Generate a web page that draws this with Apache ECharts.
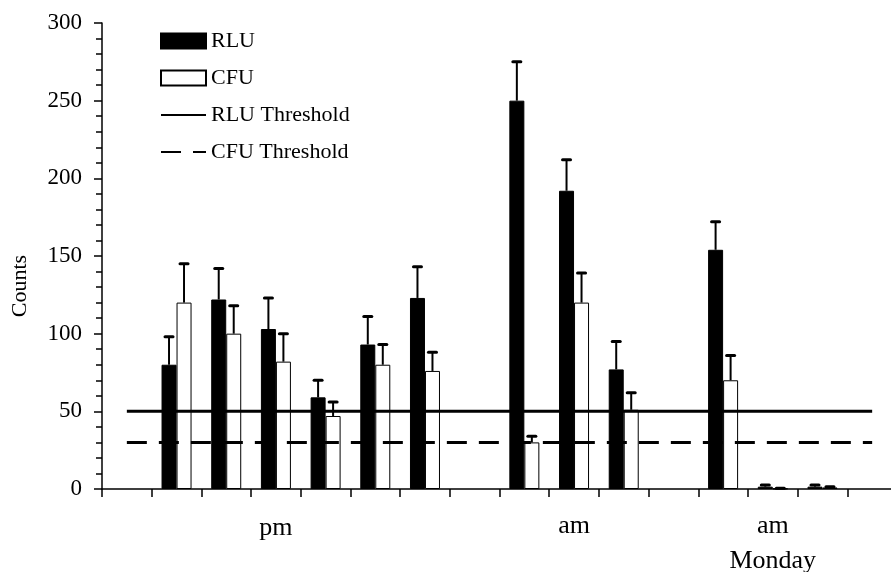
<!DOCTYPE html>
<html>
<head>
<meta charset="utf-8">
<script src="https://cdn.jsdelivr.net/npm/echarts@6/dist/echarts.min.js"></script>
<style>
  html, body { margin: 0; padding: 0; background: #fff; }
  #chart { width: 891px; height: 572px; }
</style>
</head>
<body>
<div id="chart"></div>
<script>
// 16 slots on the x axis, only three of them carry a text label
var categories = ['s1', 's2', 's3', 's4', 's5', 's6', 's7', 's8', 's9', 's10', 's11', 's12', 's13', 's14', 's15', 's16'];
var tickLabels = ['', '', '', 'pm', '', '', '', '', '', 'am', '', '', '', 'am\nMonday', '', ''];

var rlu    = [null, 80, 122, 103, 59, 93, 123, null, 250, 192, 77, null, 154, 1.5, 1.5, null];
var rluErr = [null, 18, 20, 20, 11, 18, 20, null, 25, 20, 18, null, 18, 1, 1, null];
var cfu    = [null, 120, 100, 82, 47, 80, 76, null, 30, 120, 51, null, 70, 0.3, 1, null];
var cfuErr = [null, 25, 18, 18, 9, 13, 12, null, 4, 19, 11, null, 16, 0.2, 0.5, null];

var rluThreshold = [50, 50, 50, 50, 50, 50, 50, 50, 50, 50, 50, 50, 50, 50, 50, 50];
var cfuThreshold = [30, 30, 30, 30, 30, 30, 30, 30, 30, 30, 30, 30, 30, 30, 30, 30];

var yTicks = { min: 0, max: 300, interval: 50 };

var FONT = '"Liberation Serif", "Times New Roman", serif';
var BAR_W = 15;

function errorData(values, errs) {
    var out = [];
    for (var i = 0; i < values.length; i++) {
        if (values[i] !== null) {
            out.push([i, values[i], errs[i]]);
        }
    }
    return out;
}

function errorBarRenderer(offset) {
    return function (params, api) {
        var idx = api.value(0);
        var base = api.coord([idx, api.value(1)]);
        var top = api.coord([idx, api.value(1) + api.value(2)]);
        var x = base[0] + offset;
        return {
            type: 'group',
            children: [
                {
                    type: 'line',
                    shape: { x1: x, y1: base[1], x2: x, y2: top[1] },
                    style: { stroke: '#000', lineWidth: 2 }
                },
                {
                    type: 'line',
                    shape: { x1: x - 4, y1: top[1], x2: x + 4, y2: top[1] },
                    style: { stroke: '#000', lineWidth: 3, lineCap: 'round' }
                }
            ]
        };
    };
}

var chart = echarts.init(document.getElementById('chart'));

var options = {
    animation: false,
    backgroundColor: '#fff',
    grid: {
        left: 102,
        right: -6,
        top: 23,
        bottom: 83,
        containLabel: false,
        outerBoundsMode: 'none'
    },
    legend: {
        orient: 'vertical',
        left: 160,
        top: 30,
        padding: 0,
        itemWidth: 45,
        itemHeight: 15,
        itemGap: 15,
        textStyle: { fontFamily: FONT, fontSize: 22, color: '#000' },
        data: [
            { name: 'RLU', icon: 'rect' },
            { name: 'CFU', icon: 'rect' },
            { name: 'RLU Threshold', itemStyle: { opacity: 0 } },
            { name: 'CFU Threshold', itemStyle: { opacity: 0 } }
        ]
    },
    graphic: [
        {
            type: 'text',
            x: 20,
            y: 286,
            rotation: Math.PI / 2,
            style: {
                text: 'Counts',
                font: '22px ' + FONT,
                fill: '#000',
                align: 'center',
                verticalAlign: 'middle'
            }
        }
    ],
    xAxis: {
        type: 'category',
        data: categories,
        boundaryGap: true,
        axisLine: { lineStyle: { color: '#000', width: 1.5 } },
        axisTick: {
            show: true,
            interval: 0,
            length: 8,
            lineStyle: { color: '#000', width: 1.5 }
        },
        axisLabel: {
            interval: 0,
            margin: 20,
            color: '#000',
            fontFamily: FONT,
            fontSize: 26,
            lineHeight: 35,
            formatter: function (value, index) {
                var t = tickLabels[index];
                if (t === 'pm') {
                    return '{pm|pm}';
                }
                return t;
            },
            rich: {
                pm: { fontFamily: FONT, fontSize: 26, color: '#000', padding: [4, 0, 0, 0] }
            }
        },
        splitLine: { show: false }
    },
    yAxis: {
        type: 'value',
        min: yTicks.min,
        max: yTicks.max,
        interval: yTicks.interval,
        axisLine: { show: true, lineStyle: { color: '#000', width: 1.5 } },
        axisTick: { show: true, length: 8, lineStyle: { color: '#000', width: 1.5 } },
        minorTick: { show: true, splitNumber: 5, length: 6, lineStyle: { color: '#000', width: 1.5 } },
        axisLabel: { color: '#000', fontFamily: FONT, fontSize: 23, margin: 20 },
        splitLine: { show: false }
    },
    series: [
        {
            name: 'RLU',
            type: 'bar',
            data: rlu,
            barWidth: BAR_W,
            barGap: '0%',
            itemStyle: { color: '#000', borderColor: '#000', borderWidth: 1 }
        },
        {
            name: 'CFU',
            type: 'bar',
            data: cfu,
            barWidth: BAR_W,
            barGap: '0%',
            itemStyle: { color: '#fff', borderColor: '#000', borderWidth: 1 }
        },
        {
            name: 'RLU Threshold',
            type: 'line',
            data: rluThreshold,
            symbol: 'none',
            itemStyle: { color: '#000' },
            lineStyle: { color: '#000', width: 3 }
        },
        {
            name: 'CFU Threshold',
            type: 'line',
            data: cfuThreshold,
            symbol: 'none',
            itemStyle: { color: '#000' },
            lineStyle: { color: '#000', width: 3, type: [20, 12] }
        },
        {
            name: 'RLU error',
            type: 'custom',
            data: errorData(rlu, rluErr),
            renderItem: errorBarRenderer(-BAR_W / 2),
            z: 3
        },
        {
            name: 'CFU error',
            type: 'custom',
            data: errorData(cfu, cfuErr),
            renderItem: errorBarRenderer(BAR_W / 2),
            z: 3
        }
    ]
};

chart.setOption(options);
</script>
</body>
</html>
